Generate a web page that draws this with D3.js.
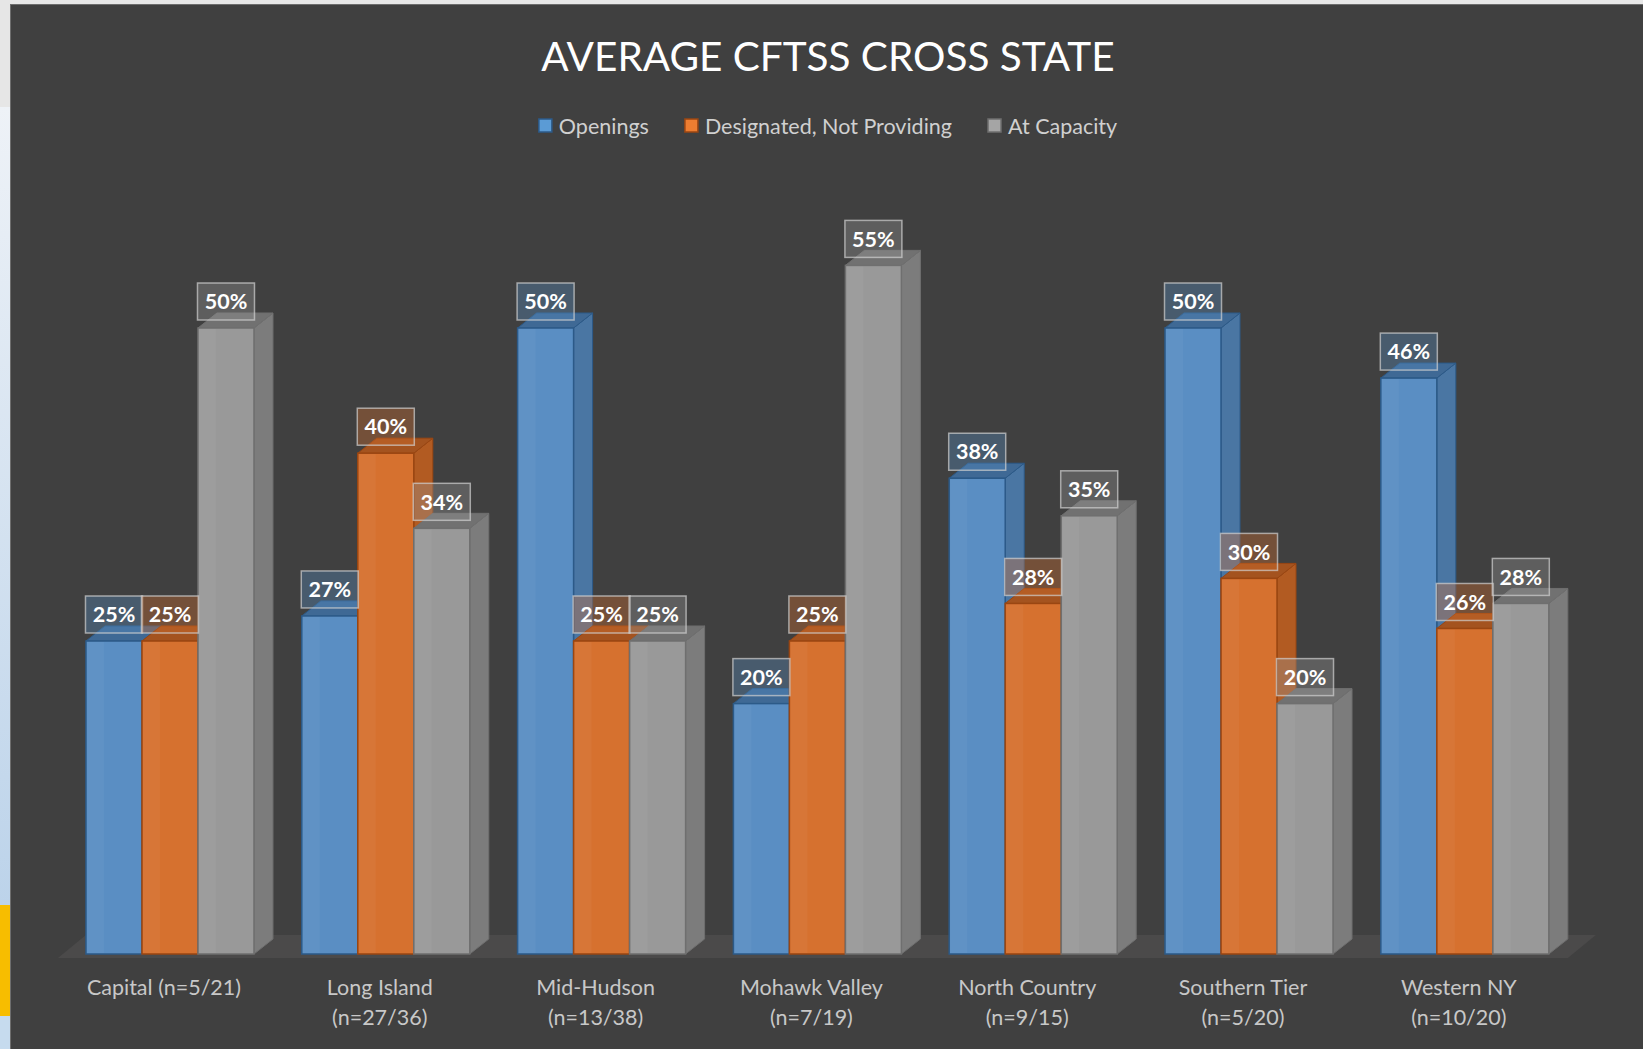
<!DOCTYPE html>
<html>
<head>
<meta charset="utf-8">
<script src="https://cdn.jsdelivr.net/npm/d3@7"></script>
<style>
  body { margin: 0; background: #e8e8e8; overflow: hidden; }
  svg { display: block; font-family: Lato, "Open Sans", sans-serif; }
</style>
</head>
<body>
<svg id="chart" width="1643" height="1049"></svg>
<script>
// values (percent)
const categories = ["Capital (n=5/21)", "Long Island (n=27/36)", "Mid-Hudson (n=13/38)",
  "Mohawk Valley (n=7/19)", "North Country (n=9/15)", "Southern Tier (n=5/20)", "Western NY (n=10/20)"]
const seriesNames = ["Openings", "Designated, Not Providing", "At Capacity"]
const openings = [25, 27, 50, 20, 38, 50, 46]
const designated = [25, 40, 25, 25, 28, 30, 26]
const atCapacity = [50, 34, 25, 55, 35, 20, 28]

const seriesValues = [openings, designated, atCapacity]
const colors = [
  { front: "#5a8ec3", side: "#4a76a3", top: "#3f6995", edge: "#2c5a88", legend: "#5b9bd5" },
  { front: "#d6712f", side: "#b25b22", top: "#a4531f", edge: "#9a4612", legend: "#ed7d31" },
  { front: "#999999", side: "#7c7c7c", top: "#717171", edge: "#6f6f6f", legend: "#a5a5a5" }
]

const svg = d3.select("#chart")

// page surroundings
const defs = svg.append("defs")
const grad = defs.append("linearGradient").attr("id", "sideGrad")
  .attr("x1", 0).attr("y1", 0).attr("x2", 0).attr("y2", 1)
grad.append("stop").attr("offset", "0").attr("stop-color", "#eef2f7")
grad.append("stop").attr("offset", "1").attr("stop-color", "#bcd3ea")

svg.append("rect").attr("x", 0).attr("y", 0).attr("width", 10).attr("height", 107).attr("fill", "#e6e6e6")
svg.append("rect").attr("x", 0).attr("y", 107).attr("width", 10).attr("height", 798).attr("fill", "url(#sideGrad)")
svg.append("rect").attr("x", 0).attr("y", 905).attr("width", 10).attr("height", 111).attr("fill", "#f7bd00")
svg.append("rect").attr("x", 0).attr("y", 1016).attr("width", 10).attr("height", 33).attr("fill", "#c6dbee")

// chart area
svg.append("rect").attr("x", 10.5).attr("y", 4.5).attr("width", 1640).attr("height", 1050)
  .attr("fill", "#404040").attr("stroke", "#6e6e6e").attr("stroke-width", 1)

const cx = 828

svg.append("text").attr("x", cx).attr("y", 71)
  .attr("text-anchor", "middle").attr("fill", "#ffffff")
  .attr("font-size", 40.5)
  .text("AVERAGE CFTSS CROSS STATE")

// legend
const legend = svg.append("g")
const items = legend.selectAll("g").data(seriesNames).enter().append("g")
items.append("rect").attr("width", 13).attr("height", 13).attr("y", -7)
  .attr("fill", (d, i) => colors[i].legend).attr("stroke", (d, i) => colors[i].edge).attr("stroke-width", 1.5)
items.append("text").attr("x", 20).attr("y", 7.5).attr("fill", "#d0d0d0").attr("font-size", 21.5).text(d => d)
let lx = 0
items.each(function() {
  const w = this.querySelector("text").getComputedTextLength()
  d3.select(this).attr("transform", `translate(${lx},0)`)
  lx += 20 + w + 36
})
lx -= 36
legend.attr("transform", `translate(${cx - lx / 2},126)`)

// scales
const base = 954
const dx = 19, dy = -15
const x = d3.scaleBand().domain(categories).range([62, 1572.8]).paddingInner(0.2215).paddingOuter(0.1111)
const xs = d3.scaleBand().domain(seriesNames).range([0, x.bandwidth()])
const y = d3.scaleLinear().domain([0, 60]).range([base, base - 60 * 12.52])

// floor
const fx0 = x(categories[0]) - 28, fx1 = x(categories[categories.length - 1]) + x.bandwidth() + 19
svg.append("path")
  .attr("d", d3.line()([[fx0, base + 4], [fx1, base + 4], [fx1 + 28, base - 19], [fx0 + 28, base - 19]]) + "Z")
  .attr("fill", "#4b4a4a")

// bars, drawn left to right so later bars cover earlier side faces
const bars = []
categories.forEach((c, ci) => {
  seriesNames.forEach((s, si) => {
    bars.push({ c, s, si, v: seriesValues[si][ci] })
  })
})

const g = svg.append("g")
const bar = g.selectAll("g.bar").data(bars).enter().append("g").attr("class", "bar")
const bw = xs.bandwidth()
const left = d => x(d.c) + xs(d.s)

bar.append("path")
  .attr("d", d => {
    const x0 = left(d) + bw, t = y(d.v)
    return d3.line()([[x0, t], [x0 + dx, t + dy], [x0 + dx, base + dy], [x0, base]]) + "Z"
  })
  .attr("fill", d => colors[d.si].side).attr("stroke", d => colors[d.si].edge).attr("stroke-width", 1)

bar.append("path")
  .attr("d", d => {
    const x0 = left(d), t = y(d.v)
    return d3.line()([[x0, t], [x0 + dx, t + dy], [x0 + bw + dx, t + dy], [x0 + bw, t]]) + "Z"
  })
  .attr("fill", d => colors[d.si].top).attr("stroke", d => colors[d.si].edge).attr("stroke-width", 1)

bar.append("rect")
  .attr("x", d => left(d)).attr("y", d => y(d.v))
  .attr("width", bw).attr("height", d => base - y(d.v))
  .attr("fill", d => colors[d.si].front).attr("stroke", d => colors[d.si].edge).attr("stroke-width", 1.5)

// faint bevel highlight on the front face
bar.append("rect")
  .attr("x", d => left(d) + 1).attr("y", d => y(d.v) + 1)
  .attr("width", 17).attr("height", d => base - y(d.v) - 2)
  .attr("fill", "#ffffff").attr("opacity", 0.04)

// value labels
const lab = svg.append("g").selectAll("g").data(bars).enter().append("g")
  .attr("transform", d => `translate(${left(d) + bw / 2},${y(d.v) - 8})`)
lab.append("rect").attr("x", -28.5).attr("y", -37).attr("width", 57).attr("height", 37)
  .attr("fill", d => colors[d.si].front).attr("fill-opacity", 0.35)
  .attr("stroke", "#d0d0d0").attr("stroke-opacity", 0.7).attr("stroke-width", 1.5)
lab.append("text").attr("y", -18.5).attr("dy", "0.36em").attr("text-anchor", "middle")
  .attr("fill", "#ffffff").attr("font-weight", "bold").attr("font-size", 21.5)
  .text(d => d.v + "%")

// category labels
const cat = svg.append("g").selectAll("text").data(categories).enter().append("text")
  .attr("x", d => x(d) + x.bandwidth() / 2 - 6)
  .attr("y", 995)
  .attr("text-anchor", "middle").attr("fill", "#c8c8c8").attr("font-size", 21.5)
  .text(d => d)
cat.each(function(d) {
  if (this.getComputedTextLength() > 180) {
    const k = d.lastIndexOf(" (")
    const t = d3.select(this).text(null)
    const xx = t.attr("x")
    t.append("tspan").attr("x", xx).text(d.slice(0, k))
    t.append("tspan").attr("x", xx).attr("dy", 30).text(d.slice(k + 1))
  }
})
</script>
</body>
</html>
